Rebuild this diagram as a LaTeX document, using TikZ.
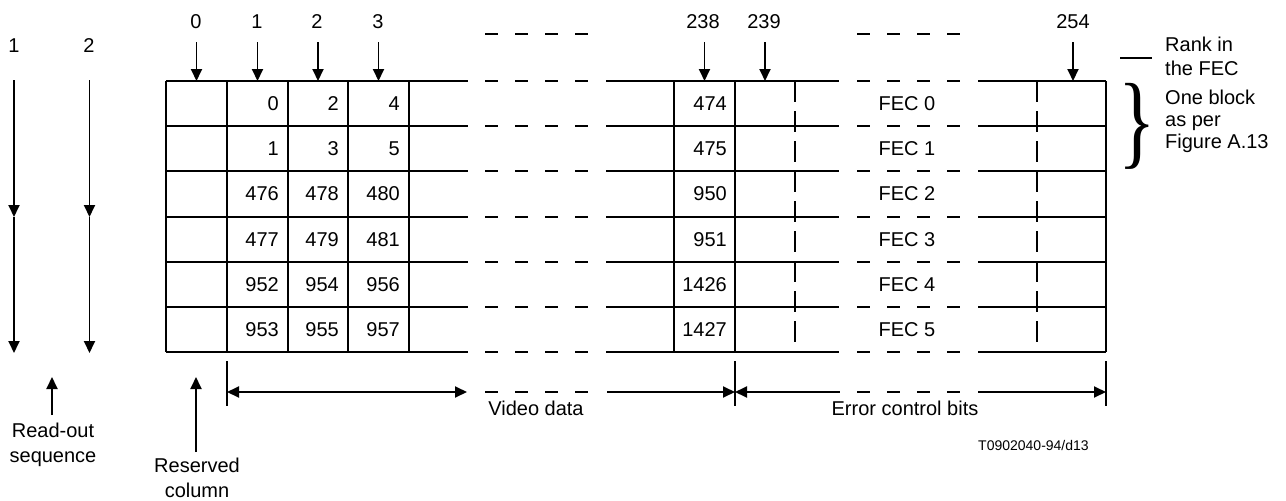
\documentclass[tikz,border=0pt]{standalone}
\usepackage{fontspec}
\setmainfont{Liberation Sans}
\newfontfamily\bracefont{Liberation Serif}
\usetikzlibrary{arrows.meta}
\begin{document}
\begin{tikzpicture}[x=1pt,y=-1pt,
  every node/.style={font=\fontsize{20}{25}\selectfont, inner sep=0pt},
  gridline/.style={line width=1.9pt},
  hdash/.style={line width=1.9pt, dash pattern=on 13pt off 17pt},
  vdash/.style={line width=1.9pt, dash pattern=on 21pt off 9pt},
  arr/.style={line width=1.9pt, -{Triangle[width=11pt,length=12pt]}},
  larr/.style={line width=1.9pt, {Triangle[width=11pt,length=12pt]}-},
  darr/.style={line width=1.9pt, {Triangle[width=11pt,length=12pt]}-{Triangle[width=11pt,length=12pt]}},
  num/.style={anchor=east},
  lbl/.style={anchor=base},
  side/.style={anchor=base west},
]
\useasboundingbox (0,0) rectangle (1286,501);

% horizontal grid lines
\foreach \y in {81,126.2,171.4,216.6,261.8,307,352.2} {
  \draw[gridline] (166,\y) -- (468,\y);
  \draw[hdash] (485,\y) -- (590,\y);
  \draw[gridline] (606,\y) -- (839,\y);
  \draw[hdash] (857,\y) -- (962,\y);
  \draw[gridline] (978,\y) -- (1106,\y);
}
% vertical grid lines
\foreach \x in {166,227,288,348,409,674,735,1106} {
  \draw[gridline] (\x,81) -- (\x,352.2);
}
\draw[vdash] (795,81) -- (795,352.2);
\draw[vdash] (1037,81) -- (1037,352.2);

% header dashes
\draw[hdash] (485,34) -- (590,34);
\draw[hdash] (857,34) -- (962,34);

% column ranks
\node[lbl] (r0) at (196,28) {0};
\node[lbl] (r1) at (257,28) {1};
\node[lbl] (r2) at (317,28) {2};
\node[lbl] (r3) at (378,28) {3};
\node[lbl] (r238) at (703,28) {238};
\node[lbl] (r239) at (764,28) {239};
\node[lbl] (r254) at (1073,28) {254};
\foreach \x in {196.5,257.5,318,378.5,704.5,765,1073} {
  \draw[arr] (\x,42) -- (\x,81);
}

% cell numbers
\foreach \yc/\a/\b/\c/\d/\f in {103.6/0/2/4/474/0, 148.8/1/3/5/475/1, 194/476/478/480/950/2, 239.2/477/479/481/951/3, 284.4/952/954/956/1426/4, 329.6/953/955/957/1427/5} {
  \node[num] at (279,\yc) {\a};
  \node[num] at (339,\yc) {\b};
  \node[num] at (400,\yc) {\c};
  \node[num] at (727,\yc) {\d};
  \node at (907,\yc) {FEC \f};
}

% read-out sequence arrows
\node[lbl] (s1) at (14,52) {1};
\node[lbl] (s2) at (89,52) {2};
\foreach \x in {14,89.5} {
  \draw[arr] (\x,80) -- (\x,217);
  \draw[arr] (\x,217) -- (\x,353);
}
\draw[arr] (52,415) -- (52,377);
\node[lbl] at (53,437) {Read-out};
\node[lbl] at (53,462) {sequence};

\draw[arr] (196,452) -- (196,377);
\node[lbl] at (197,472) {Reserved};
\node[lbl] at (197,497) {column};

% dimension lines
\draw[gridline] (227,361) -- (227,406);
\draw[gridline] (735,361) -- (735,406);
\draw[gridline] (1106,361) -- (1106,406);
\draw[darr] (227,392) -- (467,392);
\draw[hdash] (485,392) -- (590,392);
\draw[arr] (607,392) -- (735,392);
\draw[larr] (735,392) -- (840,392);
\draw[hdash] (857,392) -- (962,392);
\draw[arr] (978,392) -- (1106,392);
\node[lbl] at (536,415) {Video data};
\node[lbl] at (905,415) {Error control bits};
\node[anchor=base west, font=\fontsize{14}{17}\selectfont] at (978,450) {T0902040-94/d13};

% right annotations
\draw[line width=1.6pt] (1120,58) -- (1152,58);
\node[side] at (1165,51) {Rank in};
\node[side] at (1165,75) {the FEC};
\node (brace) at (1137,126) {\bracefont\fontsize{104}{104}\selectfont\scalebox{0.75}[1]{\}}};
\node[side] at (1165,104) {One block};
\node[side] at (1165,126) {as per};
\node[side] at (1165,148) {Figure A.13};
\end{tikzpicture}
\end{document}
